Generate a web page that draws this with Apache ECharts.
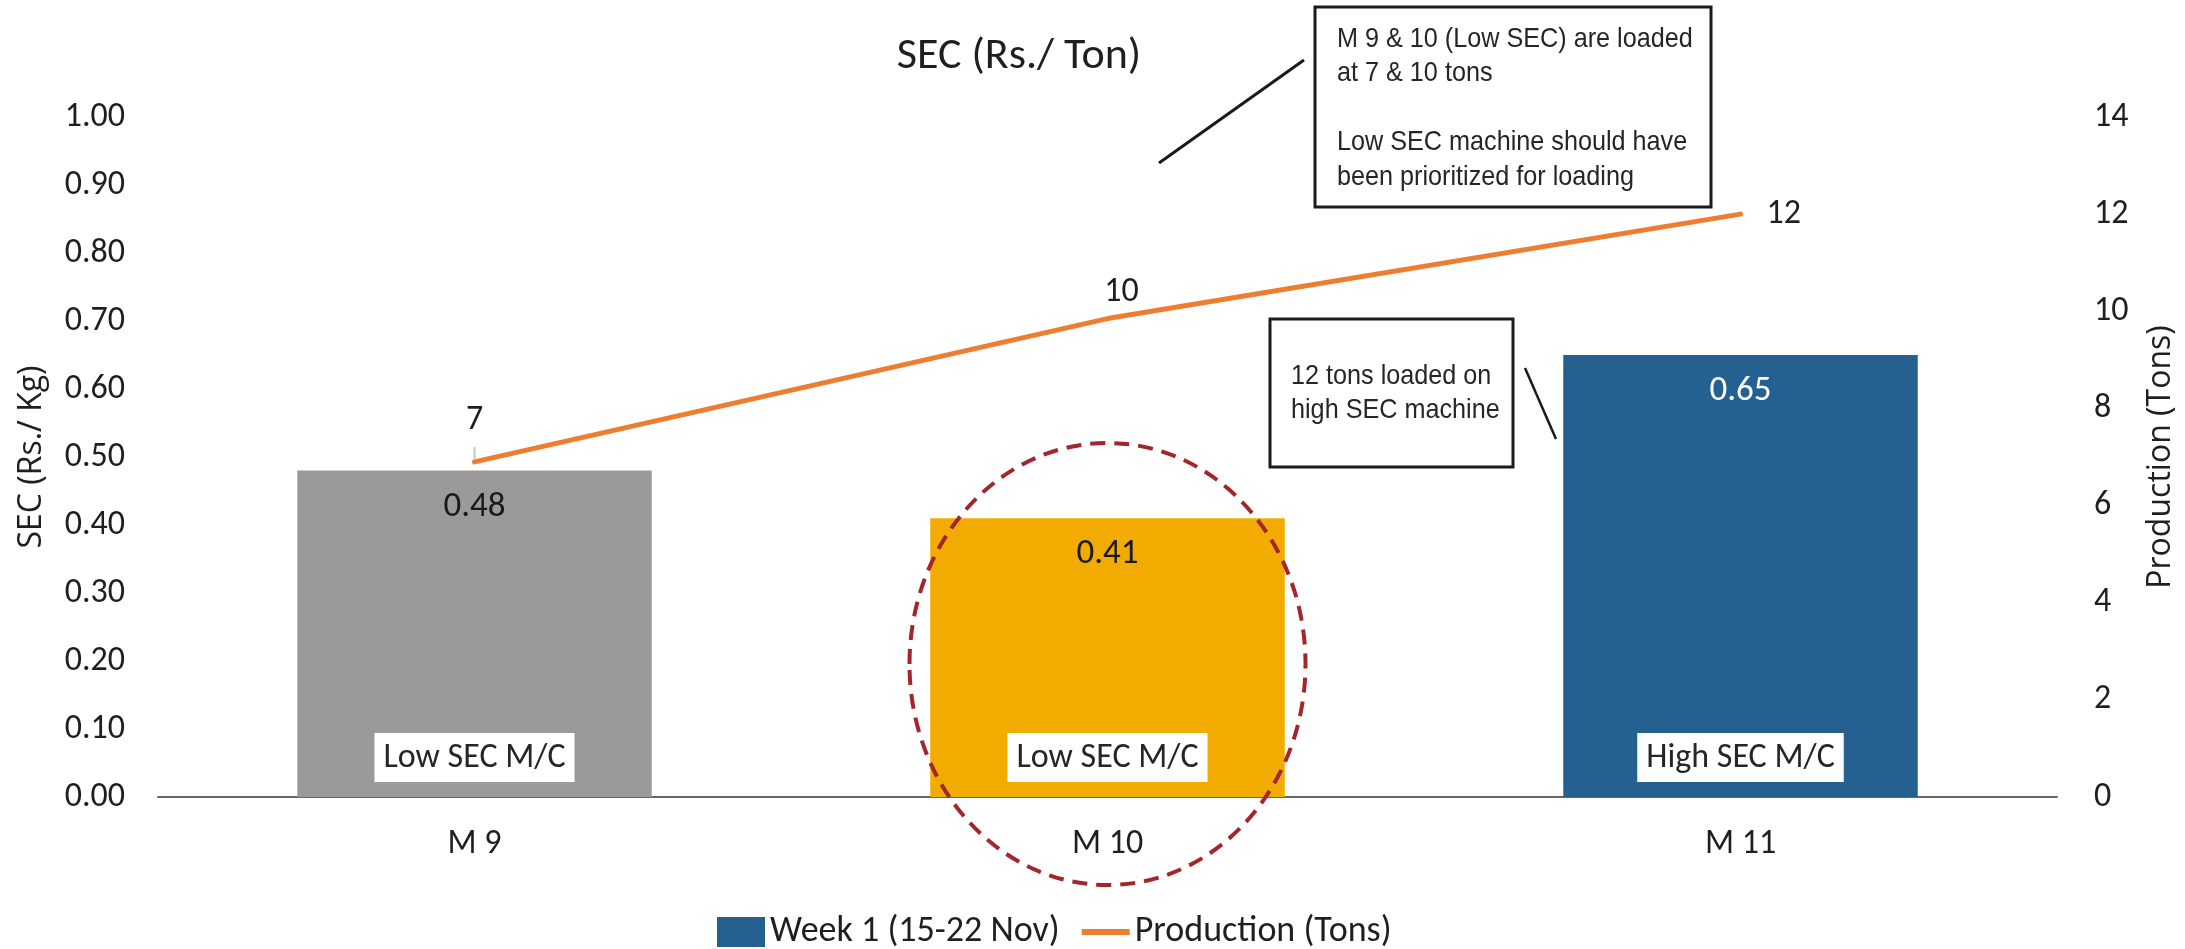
<!DOCTYPE html>
<html>
<head>
<meta charset="utf-8">
<title>SEC (Rs./ Ton)</title>
<script src="https://cdn.jsdelivr.net/npm/echarts@6/dist/echarts.min.js"></script>
<style>
  html, body { margin: 0; padding: 0; background: #fff; }
  #chart { width: 2185px; height: 949px; }
</style>
</head>
<body>
<div id="chart"></div>
<script>
  // data
  const categories = ['M 9', 'M 10', 'M 11']
  const secValues = [0.48, 0.41, 0.65] // SEC (Rs./ Kg)
  const productionTons = [6.9, 9.85, 12.0] // Production (Tons)
  const machineTypes = ['Low SEC M/C', 'Low SEC M/C', 'High SEC M/C']
  const secAxisMax = 1
  const secAxisStep = 0.1
  const prodAxisMax = 14
  const prodAxisStep = 2

  // styles
  const barColors = ['#9a9a9a', '#f2ab00', '#246090']
  const barLabelColors = ['#1a1a1a', '#1a1a1a', '#ffffff']
  const lineLabelPlacement = [
    { position: 'top', distance: 23 },
    { position: 'top', distance: 8, offset: [14, 0] },
    { position: 'right', distance: 25 }
  ]
  const calibri = 'Carlito, Lato, sans-serif'
  const segoe = '"Open Sans", "Noto Sans", sans-serif'
  const narrow = '"Liberation Sans", Arial, sans-serif'
  const ink = '#1f1f1f'

  const chart = echarts.init(document.getElementById('chart'))

  const option = {
    animation: false,
    backgroundColor: '#ffffff',
    title: {
      text: 'SEC (Rs./ Ton)',
      left: 1014,
      textAlign: 'center',
      top: 30,
      textStyle: { fontFamily: calibri, fontSize: 44, fontWeight: 'normal', color: ink }
    },
    legend: {
      top: 909,
      left: 712,
      itemWidth: 48,
      itemHeight: 30,
      itemGap: 22,
      textStyle: { fontFamily: calibri, fontSize: 36, color: ink },
      data: [
        { name: 'Week 1 (15-22 Nov)', icon: 'rect', itemStyle: { color: barColors[2] } },
        { name: 'Production (Tons)', icon: 'path://M0,0 M0,12 L50,12 L50,18 L0,18 Z M50,30' }
      ]
    },
    grid: { left: 158, right: 127, top: 117, bottom: 152 },
    xAxis: {
      type: 'category',
      data: categories,
      axisLine: { lineStyle: { color: '#666666', width: 2 } },
      axisTick: { show: false },
      axisLabel: { fontFamily: calibri, fontSize: 34, color: ink, margin: 30 }
    },
    yAxis: [
      {
        type: 'value',
        min: 0,
        max: secAxisMax,
        interval: secAxisStep,
        name: 'SEC (Rs./ Kg)',
        nameLocation: 'middle',
        nameRotate: 90,
        nameGap: 110,
        nameTextStyle: { fontFamily: segoe, fontSize: 32, color: ink },
        splitLine: { show: false },
        axisLine: { show: false },
        axisTick: { show: false },
        axisLabel: {
          fontFamily: calibri, fontSize: 34, color: ink, margin: 33,
          formatter: function (v) { return v.toFixed(2) }
        }
      },
      {
        type: 'value',
        position: 'right',
        min: 0,
        max: prodAxisMax,
        interval: prodAxisStep,
        name: 'Production (Tons)',
        nameLocation: 'middle',
        nameRotate: 90,
        nameGap: 88,
        nameTextStyle: { fontFamily: segoe, fontSize: 32, color: ink },
        splitLine: { show: false },
        axisLine: { show: false },
        axisTick: { show: false },
        axisLabel: { fontFamily: calibri, fontSize: 34, color: ink, margin: 37 }
      }
    ],
    series: [
      {
        name: 'Week 1 (15-22 Nov)',
        type: 'bar',
        barCategoryGap: '44%',
        itemStyle: { color: barColors[2] },
        label: {
          show: true,
          position: 'insideTop',
          distance: 19,
          fontFamily: calibri,
          fontSize: 35,
          formatter: function (p) { return p.value.toFixed(2) }
        },
        data: secValues.map(function (v, i) {
          return { value: v, itemStyle: { color: barColors[i] }, label: { color: barLabelColors[i] } }
        }),
        z: 2
      },
      {
        name: 'machineType',
        type: 'bar',
        barGap: '-100%',
        barCategoryGap: '44%',
        silent: true,
        itemStyle: { color: 'rgba(0,0,0,0)' },
        label: {
          show: true,
          position: 'insideBottom',
          distance: 15,
          fontFamily: calibri,
          fontSize: 34,
          lineHeight: 36,
          color: '#262626',
          backgroundColor: '#ffffff',
          padding: [7, 9, 6, 9],
          formatter: function (p) { return machineTypes[p.dataIndex] }
        },
        data: secValues,
        z: 3
      },
      {
        name: 'Production (Tons)',
        type: 'line',
        yAxisIndex: 1,
        symbol: 'circle',
        symbolSize: 2,
        lineStyle: { color: '#ed7d31', width: 5, cap: 'round' },
        itemStyle: { color: '#ed7d31' },
        label: {
          show: true,
          fontFamily: calibri,
          fontSize: 34,
          color: ink,
          formatter: function (p) { return Math.round(p.value) }
        },
        data: productionTons.map(function (v, i) {
          return { value: v, label: lineLabelPlacement[i] }
        }),
        z: 4
      }
    ]
  }

  chart.setOption(option)

  // annotations (callouts, highlight ring, leader of first line label)
  const p9 = chart.convertToPixel({ seriesIndex: 2 }, [0, productionTons[0]])
  const c10 = chart.convertToPixel({ xAxisIndex: 0 }, categories[1])

  chart.setOption({
    graphic: [
      {
        type: 'line',
        shape: { x1: p9[0], y1: p9[1] - 15, x2: p9[0], y2: p9[1] - 2 },
        style: { stroke: '#c8c8c8', lineWidth: 2 },
        z: 10
      },
      {
        type: 'ellipse',
        shape: { cx: c10, cy: 664, rx: 198, ry: 221 },
        style: { fill: null, stroke: '#a3262c', lineWidth: 4, lineDash: [15, 9] },
        z: 10
      },
      {
        type: 'line',
        shape: { x1: 1304, y1: 60, x2: 1159, y2: 163 },
        style: { stroke: '#1a1a1a', lineWidth: 3 },
        z: 10
      },
      {
        type: 'rect',
        shape: { x: 1315, y: 7, width: 396, height: 200 },
        style: { fill: '#ffffff', stroke: '#1a1a1a', lineWidth: 3 },
        z: 10
      },
      {
        type: 'text',
        x: 1337,
        y: 22,
        scaleX: 0.9,
        style: {
          text: 'M 9 & 10 (Low SEC) are loaded\nat 7 & 10 tons\n\nLow SEC machine should have\nbeen prioritized for loading',
          font: '28px ' + narrow,
          lineHeight: 34.5,
          fill: '#262626',
          verticalAlign: 'top'
        },
        z: 11
      },
      {
        type: 'line',
        shape: { x1: 1525, y1: 368, x2: 1556, y2: 439 },
        style: { stroke: '#1a1a1a', lineWidth: 2.5 },
        z: 10
      },
      {
        type: 'rect',
        shape: { x: 1270, y: 319, width: 243, height: 148 },
        style: { fill: '#ffffff', stroke: '#1a1a1a', lineWidth: 3 },
        z: 10
      },
      {
        type: 'text',
        x: 1291,
        y: 359,
        scaleX: 0.9,
        style: {
          text: '12 tons loaded on\nhigh SEC machine',
          font: '28px ' + narrow,
          lineHeight: 34,
          fill: '#262626',
          verticalAlign: 'top'
        },
        z: 11
      }
    ]
  })
</script>
</body>
</html>
